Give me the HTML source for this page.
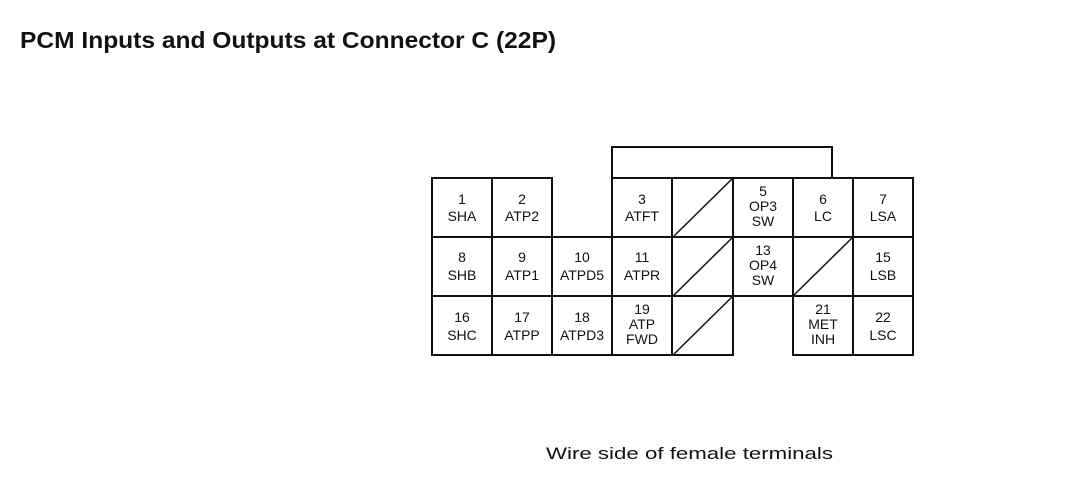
<!DOCTYPE html>
<html><head><style>
body{margin:0;background:#fff;}
</style></head><body>
<svg width="1070" height="477" xmlns="http://www.w3.org/2000/svg" style="display:block">
<rect width="1070" height="477" fill="#fff"/>
<text x="20" y="48" font-family="Liberation Sans, sans-serif" font-weight="bold" font-size="23" fill="#111" textLength="536" lengthAdjust="spacingAndGlyphs">PCM Inputs and Outputs at Connector C (22P)</text>
<g stroke="#111" stroke-width="2" fill="none">
<polyline points="612,178 612,147 832,147 832,178"/>
<rect x="432" y="178" width="120" height="59"/>
<line x1="492" y1="178" x2="492" y2="355"/>
<rect x="612" y="178" width="301" height="59"/>
<line x1="672" y1="178" x2="672" y2="355"/>
<line x1="733" y1="178" x2="733" y2="296"/>
<line x1="793" y1="178" x2="793" y2="355"/>
<line x1="853" y1="178" x2="853" y2="355"/>
<rect x="432" y="237" width="481" height="59"/>
<rect x="432" y="296" width="301" height="59"/>
<rect x="793" y="296" width="120" height="59"/>
<line x1="552" y1="237" x2="552" y2="355"/>
<line x1="612" y1="237" x2="612" y2="355"/>
<line x1="733" y1="296" x2="733" y2="355"/>
<g stroke-width="1.5">
<line x1="673" y1="237" x2="733" y2="178"/>
<line x1="673" y1="296" x2="733" y2="237"/>
<line x1="673" y1="355" x2="733" y2="296"/>
<line x1="793" y1="296" x2="853" y2="237"/>
</g>
</g>
<g font-family="Liberation Sans, sans-serif" font-size="14" fill="#111" text-anchor="middle">
<text x="462" y="204">1</text><text x="462" y="221">SHA</text>
<text x="522" y="204">2</text><text x="522" y="221">ATP2</text>
<text x="642" y="204">3</text><text x="642" y="221">ATFT</text>
<text x="763" y="196">5</text><text x="763" y="211">OP3</text><text x="763" y="226">SW</text>
<text x="823" y="204">6</text><text x="823" y="221">LC</text>
<text x="883" y="204">7</text><text x="883" y="221">LSA</text>
<text x="462" y="262">8</text><text x="462" y="280">SHB</text>
<text x="522" y="262">9</text><text x="522" y="280">ATP1</text>
<text x="582" y="262">10</text><text x="582" y="280">ATPD5</text>
<text x="642" y="262">11</text><text x="642" y="280">ATPR</text>
<text x="763" y="255">13</text><text x="763" y="270">OP4</text><text x="763" y="285">SW</text>
<text x="883" y="262">15</text><text x="883" y="280">LSB</text>
<text x="462" y="322">16</text><text x="462" y="340">SHC</text>
<text x="522" y="322">17</text><text x="522" y="340">ATPP</text>
<text x="582" y="322">18</text><text x="582" y="340">ATPD3</text>
<text x="642" y="314">19</text><text x="642" y="329">ATP</text><text x="642" y="344">FWD</text>
<text x="823" y="314">21</text><text x="823" y="329">MET</text><text x="823" y="344">INH</text>
<text x="883" y="322">22</text><text x="883" y="340">LSC</text>
</g>
<text x="546" y="459" font-family="Liberation Sans, sans-serif" font-size="17" fill="#111" textLength="287" lengthAdjust="spacingAndGlyphs">Wire side of female terminals</text>
</svg>
</body></html>
